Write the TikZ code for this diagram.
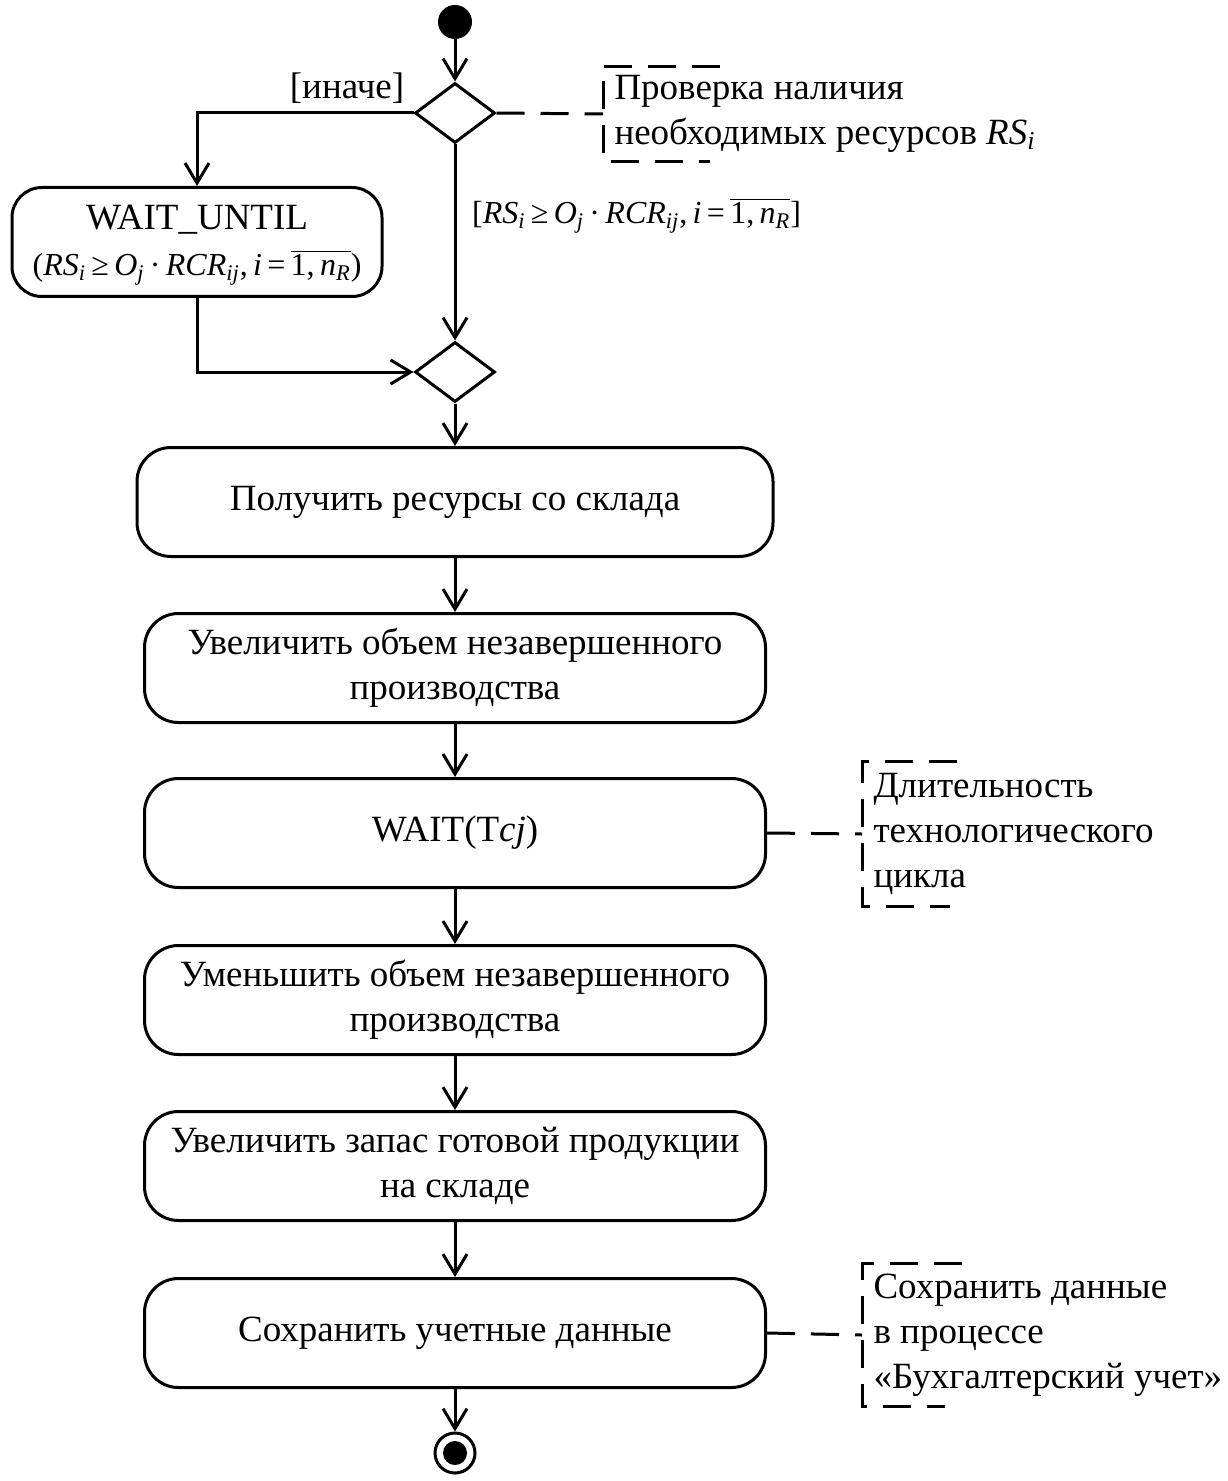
\documentclass[tikz,border=0pt]{standalone}
\usepackage{fontspec}
\setmainfont{Liberation Serif}
\usetikzlibrary{arrows.meta,shapes.geometric}

% resource condition, set in the text font
\newcommand\rscond{\textit{RS}\textsubscript{\textit{i}}\,≥\,\textit{O}\textsubscript{\textit{j}}\,·\,\textit{RCR}\textsubscript{\textit{ij}},\,\textit{i}\,=\,$\overline{\hbox{1,\,\textit{n}\textsubscript{\textit{R}}}}$}

\begin{document}
\begin{tikzpicture}[x=0.5pt,y=-0.5pt,line width=1.5pt,
  every node/.style={font=\fontsize{18.5}{22.5}\selectfont},
  arr/.style={-{Straight Barb[length=10pt,width=12pt,line width=1.5pt]}},
  dsh/.style={dash pattern=on 14pt off 8pt},
  act/.style={draw,rounded corners=17pt,minimum width=310.5pt,minimum height=54.5pt,align=center,inner sep=2pt},
  choice/.style={draw,diamond,minimum width=40pt,minimum height=30pt,inner sep=0pt},
  notetxt/.style={anchor=west,align=left,inner xsep=5pt,inner ysep=0pt},
  guard/.style={font=\fontsize{16}{18}\selectfont}]

\useasboundingbox (0,0) rectangle (1227,1481);

% initial and final states
\fill (455,22) circle[radius=8.5pt] coordinate (start);
\node[circle,draw,minimum size=20pt,inner sep=0pt] (fin) at (455,1453) {};
\fill (fin.center) circle[radius=6pt];

% decision and merge
\node[choice] (d1) at (455,113) {};
\node[choice] (d2) at (455,372) {};

% activities
\node[draw,rounded corners=15pt,minimum width=185pt,minimum height=54.5pt,inner sep=0pt] (wu) at (197,242) {};
\node[font=\fontsize{18.5}{22}\selectfont] (wut) at (197,220) {WAIT\_UNTIL};
\node[font=\fontsize{16}{18}\selectfont] (wuc) at (197,268) {(\rscond)};
\node[act,minimum width=318pt] (b1) at (455,502) {Получить ресурсы со склада};
\node[act] (b2) at (455,668) {Увеличить объем незавершенного\\производства};
\node[act] (b3) at (455,833) {WAIT(T\textit{cj})};
\node[act] (b4) at (455,1000) {Уменьшить объем незавершенного\\производства};
\node[act] (b5) at (455,1166) {Увеличить запас готовой продукции\\на складе};
\node[act] (b6) at (455,1333) {Сохранить учетные данные};

% notes
\node[notetxt,minimum height=46pt] (n1) at (603,114)
  {Проверка наличия\\необходимых ресурсов \textit{RS}\textsubscript{\textit{i}}};
\node[notetxt,minimum height=71pt] (n2) at (862,834)
  {Длительность\\технологического\\цикла};
\node[notetxt,minimum height=70pt] (n3) at (862,1335)
  {Сохранить данные\\в процессе\\«Бухгалтерский учет»};

\draw[dsh] (n1.north west) ++(117,0) -- (n1.north west) -- (n1.south west) -- ++(107,0);
\draw[dsh] (n2.north west) ++(95,0) -- (n2.north west) -- (n2.south west) -- ++(88,0);
\draw[dsh] (n3.north west) ++(100,0) -- (n3.north west) -- (n3.south west) -- ++(83,0);

% guards
\node (else) at (347,88) {[иначе]};
\node[guard,anchor=west] (ok) at (464,216) {[\rscond]};

% control flow
\draw[arr] (start) -- (d1.north);
\draw[arr] (d1.west) -| (wu.north);
\draw[arr] (d1.south) -- (d2.north);
\draw[arr] (wu.south) |- (d2.west);
\draw[arr] (d2.south) -- (b1.north);
\draw[arr] (b1) -- (b2);
\draw[arr] (b2) -- (b3);
\draw[arr] (b3) -- (b4);
\draw[arr] (b4) -- (b5);
\draw[arr] (b5) -- (b6);
\draw[arr] (b6) -- (fin);

% note anchors
\draw[dsh] (d1.east) -- (n1.west);
\draw[dsh] (b3.east) -- (n2.west);
\draw[dsh] (b6.east) -- (n3.west);
\end{tikzpicture}
\end{document}
